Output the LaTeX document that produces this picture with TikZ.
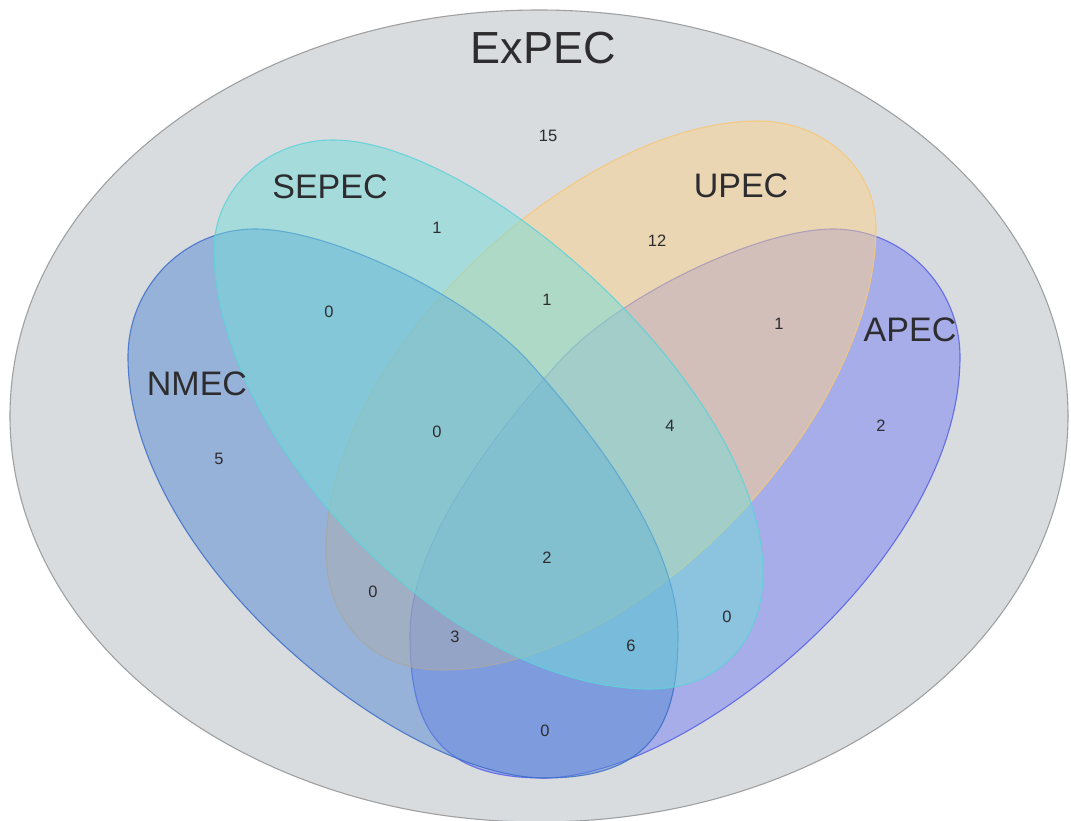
\documentclass[tikz,border=0pt]{standalone}
\usepackage{fontspec}
\setmainfont{Liberation Sans}
\definecolor{bgG}{RGB}{217,220,223}
\definecolor{bgGline}{RGB}{160,160,160}
\definecolor{cN}{RGB}{87,138,211}
\definecolor{cNl}{RGB}{60,110,200}
\definecolor{cS}{RGB}{115,220,217}
\definecolor{cSl}{RGB}{95,210,218}
\definecolor{cU}{RGB}{253,210,139}
\definecolor{cUl}{RGB}{245,200,120}
\definecolor{cA}{RGB}{119,128,241}
\definecolor{cAl}{RGB}{85,95,230}
\definecolor{txt}{RGB}{45,45,48}
\begin{document}
\begin{tikzpicture}[x=1pt,y=-1pt,
  setshape/.style={fill opacity=0.5, draw opacity=0.85, line width=1.1pt},
  nmecshape/.style={setshape, fill=cN, draw=cNl},
  sepecshape/.style={setshape, fill=cS, draw=cSl},
  upecshape/.style={setshape, fill=cU, draw=cUl},
  apecshape/.style={setshape, fill=cA, draw=cAl},
  biglabel/.style={text=txt, inner sep=0pt, font=\fontsize{45}{54}\selectfont},
  setlabel/.style={text=txt, inner sep=0pt, font=\fontsize{34}{40}\selectfont},
  count/.style={text=txt, inner sep=0pt, font=\fontsize{16.5}{20}\selectfont}]
\useasboundingbox (0,0) rectangle (1071,821);
\clip (0,0) rectangle (1071,821);
\fill[white] (0,0) rectangle (1071,821);
% outer set
\draw[fill=bgG, draw=bgGline, line width=1.1pt] (539,416) ellipse [x radius=529pt, y radius=406pt];
% APEC
\draw[apecshape] (833,229) .. controls (903,229) and (960,286) .. (960,357)
  .. controls (960,560) and (688,778) .. (543,778)
  .. controls (433,778) and (410,720) .. (410,635)
  .. controls (410,540) and (498,430) .. (558,363)
  .. controls (618,296) and (758,229) .. (833,229) -- cycle;
% UPEC
\draw[upecshape] (758,121) .. controls (823,121) and (876,168) .. (876,228)
  .. controls (876,419) and (640,670) .. (442,670)
  .. controls (370,670) and (326,620) .. (326,550)
  .. controls (326,350) and (580,121) .. (758,121) -- cycle;
% NMEC
\draw[nmecshape] (255,229) .. controls (185,229) and (128,286) .. (128,357)
  .. controls (128,560) and (400,778) .. (545,778)
  .. controls (655,778) and (678,720) .. (678,635)
  .. controls (678,540) and (590,430) .. (530,363)
  .. controls (470,296) and (330,229) .. (255,229) -- cycle;
% SEPEC
\draw[sepecshape] (333,140) .. controls (267,140) and (214,189) .. (214,250)
  .. controls (214,440) and (450,689) .. (650,689)
  .. controls (720,689) and (763,640) .. (763,573)
  .. controls (763,390) and (480,140) .. (333,140) -- cycle;
% labels
\node[biglabel] (lexpec) at (543,48) {ExPEC};
\node[setlabel] (lsepec) at (330,187) {SEPEC};
\node[setlabel] (lupec) at (741,186) {UPEC};
\node[setlabel] (lapec) at (910,330) {APEC};
\node[setlabel] (lnmec) at (197,384) {NMEC};
% counts
\node[count] (n15) at (548,136) {15};
\node[count] (s1) at (437,228) {1};
\node[count] (u12) at (657,241) {12};
\node[count] (ns0) at (329,312) {0};
\node[count] (su1) at (547,300) {1};
\node[count] (ua1) at (779,324) {1};
\node[count] (n5) at (219,459) {5};
\node[count] (nsu0) at (437,432) {0};
\node[count] (sua4) at (670,426) {4};
\node[count] (a2) at (881,426) {2};
\node[count] (all2) at (547,558) {2};
\node[count] (nu0) at (373,592) {0};
\node[count] (nua3) at (455,637) {3};
\node[count] (nsa6) at (631,646) {6};
\node[count] (sa0) at (727,617) {0};
\node[count] (na0) at (545,731) {0};
\end{tikzpicture}
\end{document}
